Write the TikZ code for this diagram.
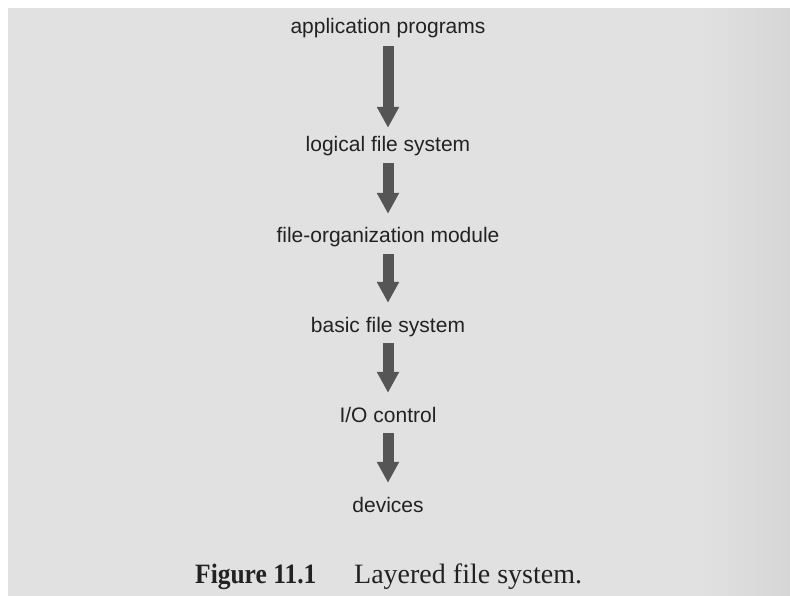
\documentclass[tikz,border=0pt]{standalone}
\usepackage{fontspec}
\setmainfont{Liberation Serif}
\setsansfont{Liberation Sans}
\usetikzlibrary{arrows.meta}
\definecolor{paper}{HTML}{E1E1E1}
\definecolor{paperedge}{HTML}{D6D6D6}
\definecolor{ink}{HTML}{222222}
\definecolor{arrowgray}{HTML}{555555}
\tikzset{
  layer/.style={anchor=base, inner sep=0pt, text height=15pt, text depth=4pt,
    text=ink, font=\sffamily\fontsize{21}{25}\selectfont},
  down/.style={draw=arrowgray, line width=11pt, line cap=butt,
    -{Triangle[width=21pt, length=21pt]}, shorten <=7pt, shorten >=14pt},
  caption/.style={anchor=base west, inner sep=0pt, text=ink,
    font=\fontsize{28}{32}\selectfont}
}
\begin{document}
\begin{tikzpicture}[x=1pt, y=-1pt]
  \useasboundingbox (0,0) rectangle (790,596);
  % page area, darkening slightly towards the right edge
  \fill[paper] (0,0) rectangle (790,596);
  \shade[left color=paper, right color=paperedge] (700,0) rectangle (790,596);
  % white margin along the top and left
  \fill[white] (0,0) rectangle (790,8);
  \fill[white] (0,0) rectangle (8,596);

  % layers
  \node[layer] (app)  at (388,34)  {application programs};
  \node[layer] (lfs)  at (388,152) {logical file system};
  \node[layer] (fom)  at (388,243) {file-organization module};
  \node[layer] (bfs)  at (388,332) {basic file system};
  \node[layer] (ioc)  at (388,422) {I/O control};
  \node[layer] (dev)  at (388,512) {devices};

  % arrows between layers
  \draw[down, shorten <=8pt, shorten >=9pt] (app.south) -- (lfs.north);
  \draw[down] (lfs.south) -- (fom.north);
  \draw[down] (fom.south) -- (bfs.north);
  \draw[down] (bfs.south) -- (ioc.north);
  \draw[down] (ioc.south) -- (dev.north);

  % caption
  \node[caption, xscale=0.91] (fig) at (195,583) {\bfseries Figure 11.1};
  \node[caption] (cap) at (354,583) {Layered file system.};
\end{tikzpicture}
\end{document}
